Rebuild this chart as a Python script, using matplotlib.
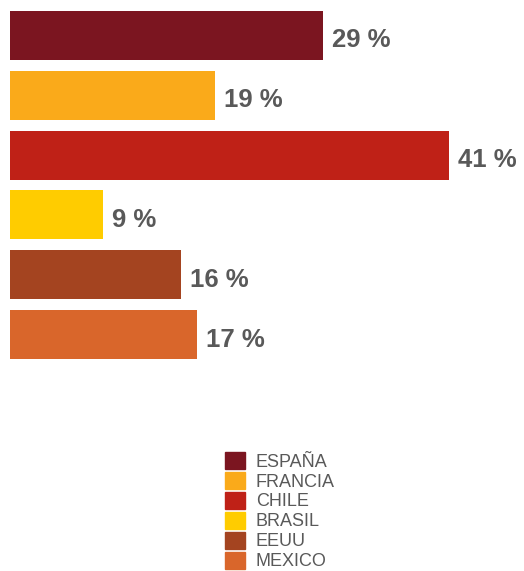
import matplotlib

matplotlib.use("Agg")
import matplotlib.pyplot as plt

# Data
countries = ["ESPAÑA", "FRANCIA", "CHILE", "BRASIL", "EEUU", "MEXICO"]
shares = [29.2, 19.15, 41.0, 8.7, 16.0, 17.45]  # bar lengths (%)
share_labels = [29, 19, 41, 9, 16, 17]  # rounded values as printed
colors = ["#7B1520", "#FAAA1A", "#BF2117", "#FFCC00", "#A44420", "#D9662B"]

W, H = 524, 571
plt.rcParams["font.family"] = ["Liberation Sans", "DejaVu Sans"]

fig = plt.figure(figsize=(W / 100, H / 100), dpi=100)
# axes spans x 10..524 px, y 0..370 px from top
ax = fig.add_axes([10 / W, 1 - 370 / H, (W - 10) / W, 370 / H])

ypos = list(range(len(countries)))
ax.barh(ypos, shares, height=0.82, color=colors)

for y, v, lab in zip(ypos, shares, share_labels):
    ax.annotate(
        f"{lab} %",
        xy=(v, y),
        xytext=(9, -5),
        textcoords="offset pixels",
        va="center",
        ha="left",
        fontsize=18.5,
        fontweight="bold",
        color="#595959",
    )

ax.set_xlim(0, 41 * (W - 10) / 439)
ax.set_ylim(5 + 35.5 / 60, -35.5 / 60)
ax.axis("off")

handles = [plt.Rectangle((0, 0), 1, 1, color=c) for c in colors]
leg = fig.legend(
    handles,
    countries,
    loc="upper left",
    bbox_to_anchor=(225 / W, 1 - 452 / H),
    frameon=False,
    fontsize=13,
    handlelength=1.1,
    handleheight=1.05,
    handletextpad=0.6,
    labelspacing=0.08,
    borderpad=0,
    borderaxespad=0,
)
for t in leg.get_texts():
    t.set_color("#595959")

fig.savefig("out.png", dpi=100)
